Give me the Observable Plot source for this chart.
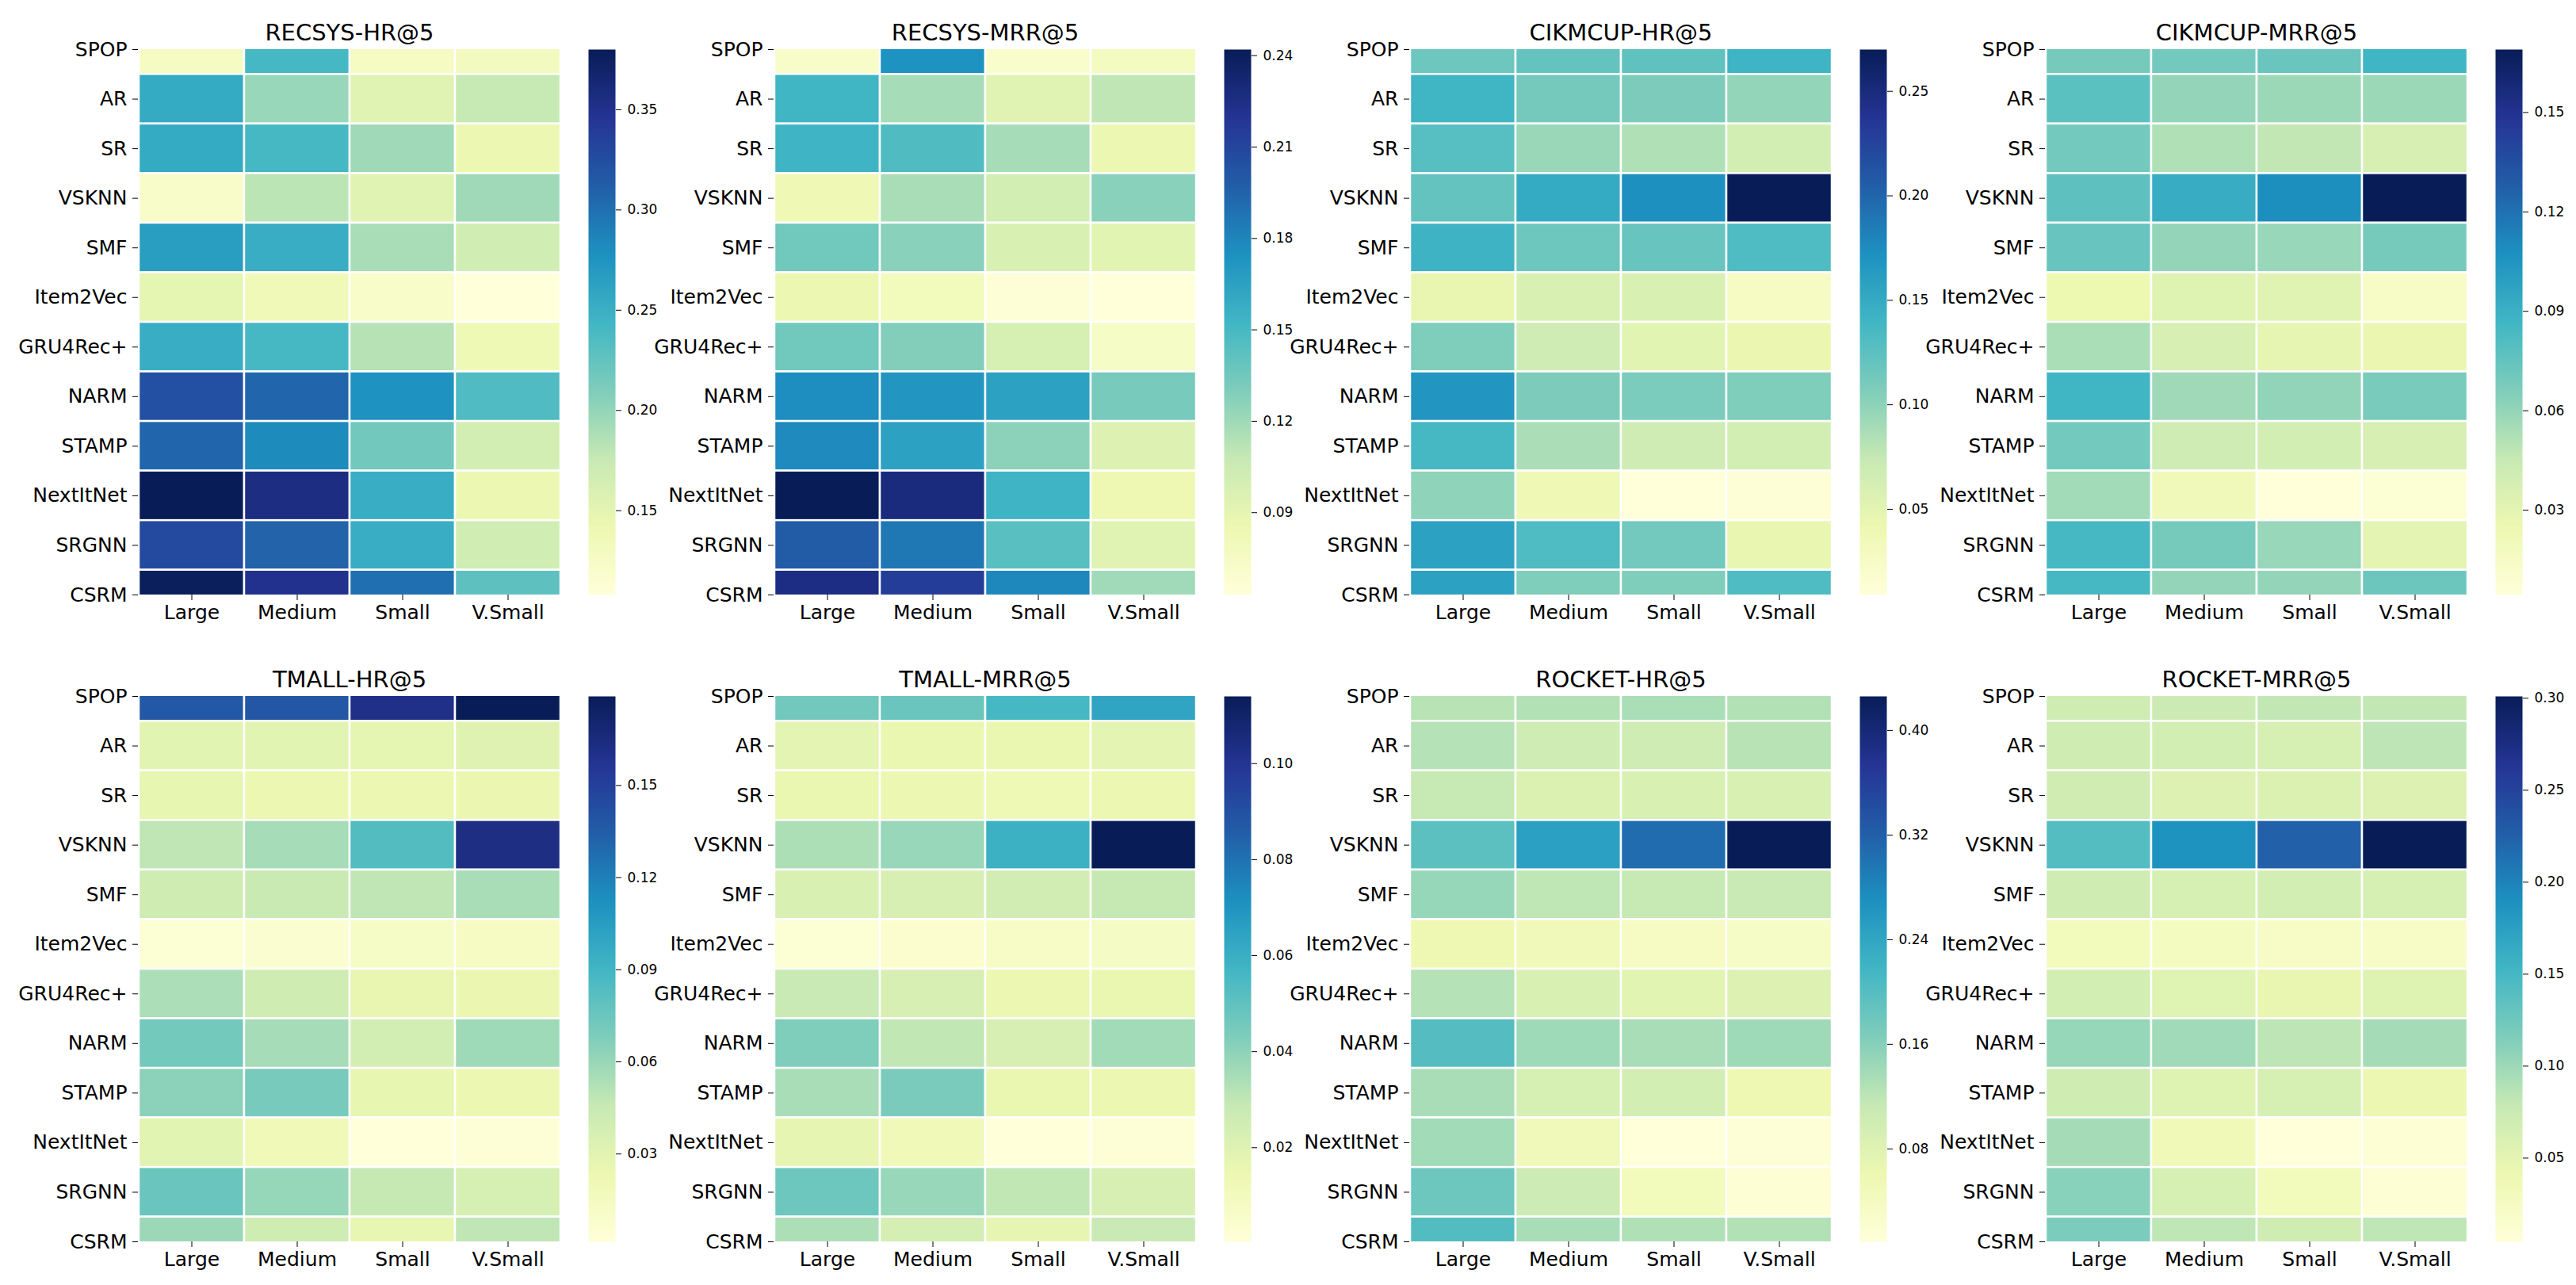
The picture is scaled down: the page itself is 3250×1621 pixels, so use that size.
<!DOCTYPE html>
<html><head><meta charset="utf-8">
<script src="https://cdn.jsdelivr.net/npm/d3@7"></script>
<script src="https://cdn.jsdelivr.net/npm/@observablehq/plot@0.6"></script>
<style>
body{margin:0;background:#fff;}
#root{position:relative;width:3250px;height:1621px;overflow:hidden;background:#fff;font-family:"DejaVu Sans",sans-serif;}
.abs{position:absolute;}
</style></head><body><div id="root"></div>
<script>
const methods = ["SPOP","AR","SR","VSKNN","SMF","Item2Vec","GRU4Rec+","NARM","STAMP","NextItNet","SRGNN","CSRM"];
const sizes = ["Large","Medium","Small","V.Small"];

const recsysHR = [
  [0.127,0.241,0.127,0.130],[0.255,0.198,0.154,0.176],[0.255,0.241,0.195,0.143],[0.122,0.181,0.154,0.195],
  [0.266,0.252,0.190,0.168],[0.149,0.135,0.122,0.108],[0.252,0.241,0.184,0.138],[0.323,0.307,0.277,0.236],
  [0.307,0.282,0.217,0.165],[0.380,0.356,0.252,0.143],[0.328,0.309,0.252,0.168],[0.377,0.350,0.301,0.228]];
const recsysMRR = [
  [0.072,0.174,0.070,0.077],[0.153,0.118,0.093,0.110],[0.154,0.147,0.118,0.086],[0.083,0.117,0.101,0.127],
  [0.135,0.127,0.097,0.092],[0.086,0.079,0.065,0.063],[0.135,0.129,0.099,0.074],[0.176,0.172,0.165,0.133],
  [0.178,0.165,0.126,0.095],[0.242,0.228,0.154,0.084],[0.199,0.186,0.144,0.093],[0.226,0.215,0.179,0.120]];
const cikmHR = [
  [0.116,0.121,0.123,0.141],[0.140,0.112,0.108,0.098],[0.128,0.095,0.085,0.064],[0.121,0.150,0.173,0.270],
  [0.142,0.116,0.119,0.132],[0.046,0.059,0.059,0.027],[0.107,0.068,0.051,0.043],[0.168,0.108,0.109,0.107],
  [0.137,0.087,0.068,0.064],[0.100,0.038,0.009,0.012],[0.158,0.132,0.113,0.046],[0.158,0.107,0.107,0.132]];
const cikmMRR = [
  [0.069,0.070,0.073,0.087],[0.078,0.060,0.058,0.058],[0.070,0.052,0.047,0.037],[0.077,0.092,0.108,0.169],
  [0.074,0.060,0.059,0.069],[0.025,0.033,0.032,0.014],[0.054,0.037,0.029,0.026],[0.087,0.057,0.061,0.068],
  [0.070,0.042,0.039,0.037],[0.056,0.021,0.0044,0.0077],[0.085,0.069,0.059,0.030],[0.085,0.060,0.060,0.072]];
const tmallHR = [
  [0.138,0.139,0.161,0.179],[0.030,0.030,0.028,0.032],[0.027,0.024,0.024,0.025],[0.048,0.056,0.084,0.163],
  [0.041,0.044,0.048,0.055],[0.005,0.007,0.012,0.014],[0.054,0.041,0.026,0.025],[0.072,0.056,0.039,0.058],
  [0.064,0.071,0.027,0.024],[0.030,0.019,0.0014,0.003],[0.076,0.061,0.046,0.037],[0.059,0.041,0.027,0.048]];
const tmallMRR = [
  [0.046,0.048,0.056,0.064],[0.018,0.016,0.016,0.018],[0.016,0.015,0.013,0.015],[0.034,0.038,0.059,0.114],
  [0.022,0.023,0.025,0.029],[0.0027,0.0038,0.007,0.008],[0.028,0.023,0.015,0.016],[0.043,0.030,0.023,0.036],
  [0.035,0.044,0.016,0.015],[0.017,0.012,0.0004,0.0015],[0.047,0.038,0.030,0.023],[0.034,0.024,0.017,0.028]];
const rocketHR = [
  [0.124,0.128,0.134,0.128],[0.126,0.103,0.103,0.124],[0.113,0.086,0.088,0.088],[0.195,0.249,0.307,0.426],
  [0.149,0.119,0.113,0.111],[0.059,0.051,0.038,0.034],[0.126,0.088,0.076,0.084],[0.201,0.142,0.136,0.142],
  [0.136,0.092,0.097,0.059],[0.140,0.051,0.009,0.013],[0.180,0.105,0.047,0.015],[0.203,0.136,0.130,0.128]];
const rocketMRR = [
  [0.071,0.074,0.081,0.081],[0.071,0.067,0.064,0.084],[0.070,0.058,0.059,0.058],[0.142,0.188,0.225,0.301],
  [0.071,0.064,0.067,0.064],[0.031,0.028,0.022,0.021],[0.067,0.055,0.046,0.056],[0.104,0.098,0.084,0.096],
  [0.071,0.056,0.064,0.043],[0.096,0.034,0.0045,0.009],[0.111,0.064,0.031,0.009],[0.118,0.083,0.071,0.083]];

const titles = ["RECSYS-HR@5","RECSYS-MRR@5","CIKMCUP-HR@5","CIKMCUP-MRR@5","TMALL-HR@5","TMALL-MRR@5","ROCKET-HR@5","ROCKET-MRR@5"];
const colorbarTicks = [
  [0.15,0.20,0.25,0.30,0.35],
  [0.09,0.12,0.15,0.18,0.21,0.24],
  [0.05,0.10,0.15,0.20,0.25],
  [0.03,0.06,0.09,0.12,0.15],
  [0.03,0.06,0.09,0.12,0.15],
  [0.02,0.04,0.06,0.08,0.10],
  [0.08,0.16,0.24,0.32,0.40],
  [0.05,0.10,0.15,0.20,0.25,0.30]];
const panelValues = [recsysHR, recsysMRR, cikmHR, cikmMRR, tmallHR, tmallMRR, rocketHR, rocketMRR];

const ylgnbu = ["#ffffd9","#edf8b1","#c7e9b4","#7fcdbb","#41b6c4","#1d91c0","#225ea8","#253494","#081d58"];
const FONT = "DejaVu Sans";
const root = document.getElementById("root");
const baseStyle = {background: "none", overflow: "visible", maxWidth: "none", fontFamily: FONT, color: "#000"};

panelValues.forEach((values, k) => {
  const c = k % 4, r = Math.floor(k / 4);
  const rows = [];
  values.forEach((row, i) => row.forEach((v, j) => rows.push({idx: i, size: sizes[j], value: v})));
  const ext = d3.extent(rows, d => d.value);
  const stops = ylgnbu.map((_, s) => ext[0] + s / (ylgnbu.length - 1) * (ext[1] - ext[0]));
  const color = {type: "linear", domain: stops, range: ylgnbu, interpolate: d3.interpolateRgb};

  const heat = Plot.plot({
    width: 720, height: 800, marginLeft: 174, marginRight: 13, marginTop: 62, marginBottom: 50,
    style: baseStyle,
    x: {type: "band", domain: sizes, padding: 0, label: null},
    y: {type: "linear", domain: [0, methods.length - 1], reverse: true, label: null},
    color,
    marks: [
      Plot.barY(rows, {x: "size", y1: d => d.idx - 0.5, y2: d => d.idx + 0.5, fill: "value", stroke: "white", strokeWidth: 2.5, clip: true}),
      Plot.axisY({ticks: methods.map((_, i) => i), tickFormat: i => methods[i], tickSize: 7, tickPadding: 7, fontSize: 25, label: null}),
      Plot.axisX({tickSize: 7, tickPadding: 6, fontSize: 25, label: null}),
      Plot.text([titles[k]], {text: d => d, frameAnchor: "top", dy: -21, lineAnchor: "middle", fontSize: 29})
    ]
  });
  const d1 = document.createElement("div");
  d1.className = "abs";
  d1.style.left = (802 * c) + "px";
  d1.style.top = (816 * r) + "px";
  d1.appendChild(heat);
  root.appendChild(d1);

  const bar = Plot.plot({
    width: 104, height: 800, marginLeft: 0, marginRight: 70, marginTop: 62, marginBottom: 50,
    style: baseStyle,
    x: {domain: [0, 1], axis: null},
    y: {domain: ext, label: null},
    color,
    marks: [
      Plot.raster({fill: (x, y) => y, x1: 0, x2: 1, y1: ext[0], y2: ext[1], width: 1, height: 688}),
      Plot.axisY({anchor: "right", ticks: colorbarTicks[k], tickFormat: ".2f", tickSize: 7, tickPadding: 8, fontSize: 17, label: null})
    ]
  });
  const d2 = document.createElement("div");
  d2.className = "abs";
  d2.style.left = (802 * c + 742) + "px";
  d2.style.top = (816 * r) + "px";
  d2.appendChild(bar);
  root.appendChild(d2);
});
</script></body></html>
